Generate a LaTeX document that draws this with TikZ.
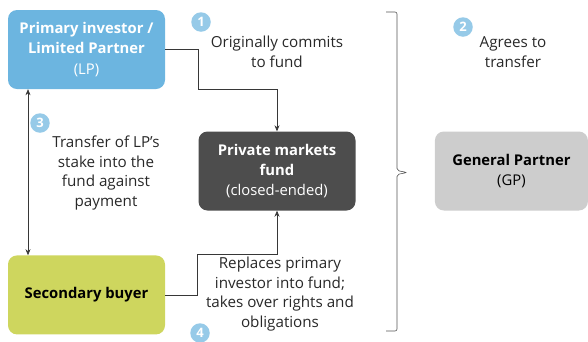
\documentclass[tikz,border=0pt]{standalone}
\usepackage{fontspec}
\setmainfont{Open Sans}
\usetikzlibrary{arrows.meta,positioning}
\definecolor{lpblue}{RGB}{108,181,224}
\definecolor{numblue}{RGB}{150,202,232}
\definecolor{funddark}{RGB}{77,77,77}
\definecolor{buyergreen}{RGB}{206,214,94}
\definecolor{gpgrey}{RGB}{205,205,205}
\definecolor{linegrey}{RGB}{55,55,55}
\definecolor{txtgrey}{RGB}{40,40,40}

\begin{document}
\begin{tikzpicture}[x=1pt, y=-1pt,
    box/.style={rounded corners=9pt, minimum width=157pt, minimum height=79pt,
                inner sep=2pt, align=center, font=\fontsize{14.8}{20.2}\selectfont},
    lbl/.style={align=center, text=txtgrey, font=\fontsize{15.2}{19.8}\selectfont},
    num/.style={circle, fill=numblue, text=white, minimum size=19.5pt, inner sep=0pt,
                font=\fontsize{13}{13}\selectfont\bfseries},
    arr/.style={-{Stealth[length=6pt,width=5pt]}, linegrey, semithick},
  ]
    \useasboundingbox (0,0) rectangle (588,341);

    % parties
    \node[box, fill=lpblue, text=white] (lp) at (86.5,49.5)
      {\textbf{Primary investor /}\\\textbf{Limited Partner}\\(LP)};
    \node[box, fill=buyergreen, text=black, below=166pt of lp] (sec) {\textbf{Secondary buyer}};
    \node[box, fill=funddark, text=white] (fund) at (277,171)
      {\textbf{Private markets}\\\textbf{fund}\\(closed-ended)};
    \node[box, fill=gpgrey, text=black, minimum width=153pt, right=79pt of fund] (gp)
      {\textbf{General Partner}\\(GP)};

    % steps
    \node[num] (n1) at (201,22) {1};
    \node[lbl] (t1) at (277,52) {Originally commits\\to fund};
    \node[num] (n2) at (463,27) {2};
    \node[lbl] (t2) at (513,52) {Agrees to\\transfer};
    \node[num] (n3) at (40,123) {3};
    \node[lbl] (t3) at (106,173) {Transfer of LP’s\\stake into the\\fund against\\payment};
    \node[num] (n4) at (200,333) {4};
    \node[lbl] (t4) at (280,294) {Replaces primary\\investor into fund;\\takes over rights and\\obligations};

    % flows
    \draw[arr] (lp.east) -- ++(33,0) |- ([yshift=42pt]fund.north) -- (fund.north);
    \draw[arr] (sec.east) -- ++(32,0) |- ([yshift=-44pt]fund.south) -- (fund.south);
    \draw[arr, {Stealth[length=6pt,width=5pt]}-{Stealth[length=6pt,width=5pt]}]
      ([xshift=-58.5pt]lp.south) -- ([xshift=-58.5pt]sec.north);

    % brace towards the GP
    \draw[linegrey!85, semithick, rounded corners=2pt]
      (386,12) -- (397,12) -- (397,170.5) -- (407,172.5) -- (397,174.5) -- (397,331) -- (386,331);
  \end{tikzpicture}
\end{document}
